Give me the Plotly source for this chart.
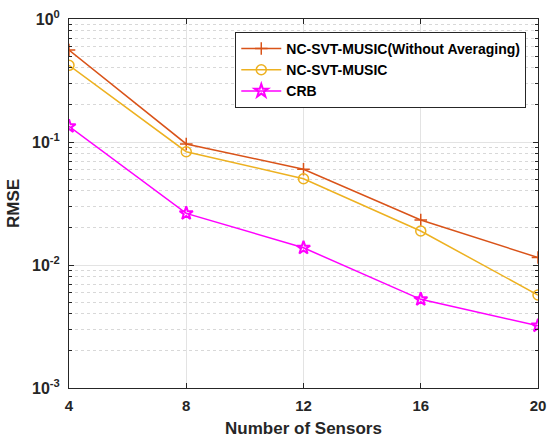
import plotly.graph_objects as go

# Number of sensors and RMSE per method
sensors = [4, 8, 12, 16, 20]
rmse_no_avg = [0.56, 0.0964, 0.060, 0.0232, 0.0115]
rmse_svt = [0.42, 0.0834, 0.0503, 0.0189, 0.0057]
rmse_crb = [0.134, 0.0263, 0.0138, 0.00526, 0.00321]

series_names = ["NC-SVT-MUSIC(Without Averaging)", "NC-SVT-MUSIC", "CRB"]
y_tick_vals = [1e-3, 1e-2, 1e-1, 1]
y_tick_text = ["<b>10<sup>-3</sup></b>", "<b>10<sup>-2</sup></b>",
               "<b>10<sup>-1</sup></b>", "<b>10<sup>0</sup></b>"]

font_family = "Liberation Sans, Arial, sans-serif"
axis_color = "#262626"

fig = go.Figure()
fig.add_trace(go.Scatter(
    x=sensors, y=rmse_no_avg, name="<b>" + series_names[0] + "</b>", mode="lines+markers",
    line=dict(color="#D95319", width=1.5),
    marker=dict(symbol="cross-thin", size=9, line=dict(color="#D95319", width=1.5)),
))
fig.add_trace(go.Scatter(
    x=sensors, y=rmse_svt, name="<b>" + series_names[1] + "</b>", mode="lines+markers",
    line=dict(color="#EDB120", width=1.5),
    marker=dict(symbol="circle-open", size=10, color="#EDB120", line=dict(width=1.5)),
))
fig.add_trace(go.Scatter(
    x=sensors, y=rmse_crb, name="<b>" + series_names[2] + "</b>", mode="lines+markers",
    line=dict(color="#FF00FF", width=1.5),
    marker=dict(symbol="star-open", size=10, color="#FF00FF", line=dict(width=2)),
))

fig.update_layout(
    width=548, height=438,
    margin=dict(l=69, r=10, t=19, b=50, autoexpand=False),
    paper_bgcolor="white", plot_bgcolor="white",
    font=dict(family=font_family, size=14, color=axis_color),
    legend=dict(
        x=0.975, y=0.965, xanchor="right", yanchor="top",
        bgcolor="white", bordercolor=axis_color, borderwidth=1,
        font=dict(size=14, family=font_family, color="black"),
        tracegroupgap=0, itemwidth=40,
    ),
    showlegend=True,
)

fig.update_xaxes(
    range=[4, 20], tickvals=sensors, ticktext=["<b>%d</b>" % s for s in sensors],
    automargin=False,
    showline=True, linecolor=axis_color, linewidth=1, mirror="allticks",
    ticks="inside", ticklen=5, tickcolor=axis_color,
    showgrid=True, gridcolor="#E3E3E3", gridwidth=1,
    zeroline=False,
    tickfont=dict(size=15, color=axis_color), ticklabelstandoff=4,
    title=dict(text="<b>Number of Sensors</b>", font=dict(size=17, color=axis_color), standoff=10),
)
fig.update_yaxes(
    type="log", range=[-3, 0], tickvals=y_tick_vals, ticktext=y_tick_text,
    automargin=False,
    showline=True, linecolor=axis_color, linewidth=1, mirror="allticks",
    ticks="inside", ticklen=5, tickcolor=axis_color,
    showgrid=True, gridcolor="#E3E3E3", gridwidth=1,
    zeroline=False,
    tickfont=dict(size=16, color=axis_color), ticklabelstandoff=5,
    title=dict(text="<b>RMSE</b>", font=dict(size=17, color=axis_color), standoff=8),
    minor=dict(
        dtick="D1", ticks="inside", ticklen=3, tickcolor=axis_color,
        showgrid=True, gridcolor="#D8D8D8", griddash="dot", gridwidth=1,
    ),
)

fig.write_html("out.html")
